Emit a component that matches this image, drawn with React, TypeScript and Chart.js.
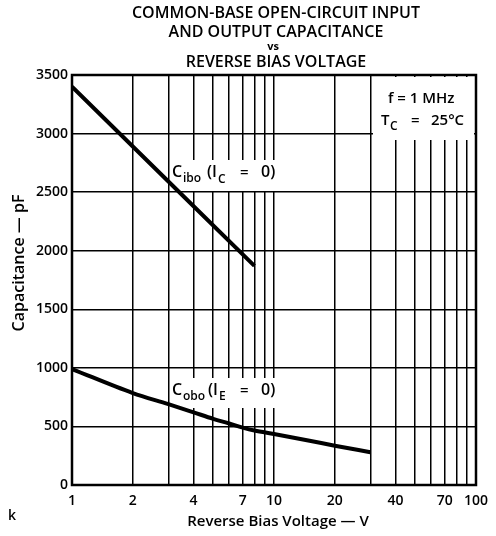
import React, { useEffect, useRef } from 'react';
import { Chart, registerables } from 'chart.js';
Chart.register(...registerables);

const FONT = '"Open Sans", "DejaVu Sans", sans-serif';

// Data
const gridVoltages = [1, 2, 3, 4, 5, 6, 7, 8, 9, 10, 20, 30, 40, 50, 60, 70, 80, 90, 100];
const labeledVoltages = [1, 2, 4, 7, 10, 20, 40, 70, 100];
const ciboVoltage = [1, 2, 4, 8];
const ciboCapacitance = [3400, 2890, 2380, 1870];
const coboVoltage = [1, 2, 3, 4, 5, 6, 7, 8, 10, 15, 20, 30];
const coboCapacitance = [990, 785, 690, 620, 565, 525, 490, 465, 435, 378, 335, 280];
const titleLines = ['COMMON-BASE OPEN-CIRCUIT INPUT', 'AND OUTPUT CAPACITANCE', 'vs', 'REVERSE BIAS VOLTAGE'];

function drawPieces(ctx: CanvasRenderingContext2D, pieces: [string, number, number, number][]) {
  for (const [t, x, y, size] of pieces) {
    ctx.font = `600 ${size}px ${FONT}`;
    ctx.fillText(t, x, y);
  }
}

const decorPlugin = {
  id: 'decor',
  beforeDatasetsDraw(chart: any) {
    const ctx = chart.ctx as CanvasRenderingContext2D;
    ctx.save();
    ctx.fillStyle = '#fff';
    // label backgrounds
    ctx.fillRect(171, 160, 106, 31);
    ctx.fillRect(171, 378, 106, 30);
    ctx.fillRect(373, 77, 101, 63);
    ctx.fillStyle = '#000';
    ctx.textBaseline = 'alphabetic';
    ctx.textAlign = 'left';
    drawPieces(ctx, [
      ['C', 172, 177, 16], ['ibo', 183, 182, 12], ['(I', 207, 177, 16], ['C', 218, 183, 12],
      ['=', 240, 177, 15], ['0)', 261, 177, 16],
      ['C', 172, 395, 16], ['obo', 183, 400, 12], ['(I', 208, 395, 16], ['E', 219, 400, 12],
      ['=', 240, 395, 15], ['0)', 261, 395, 16],
      ['f = 1 MHz', 388, 103, 15],
      ['T', 381, 125, 15], ['C', 390, 130, 12], ['=', 411, 125, 15], ['25°C', 431, 125, 15],
    ]);
    ctx.restore();
  },
  afterDatasetsDraw(chart: any) {
    const ctx = chart.ctx as CanvasRenderingContext2D;
    const a = chart.chartArea;
    ctx.save();
    ctx.strokeStyle = '#000';
    ctx.lineWidth = 2.5;
    ctx.strokeRect(a.left, a.top, a.right - a.left, a.bottom - a.top);
    ctx.restore();
  },
  afterDraw(chart: any) {
    const ctx = chart.ctx as CanvasRenderingContext2D;
    const a = chart.chartArea;
    ctx.save();
    ctx.fillStyle = '#000';
    ctx.textAlign = 'center';
    ctx.textBaseline = 'middle';
    const cx = (a.left + a.right) / 2 + 2;
    const ys = [13, 32, 47, 62];
    titleLines.forEach((t, i) => {
      ctx.font = i === 2 ? `bold 11px ${FONT}` : `600 16px ${FONT}`;
      ctx.fillText(t, i === 2 ? cx - 3 : cx, ys[i]);
    });
    ctx.font = `600 15px ${FONT}`;
    ctx.fillText('Reverse Bias Voltage — V', cx + 2, 522);
    ctx.font = `600 14px ${FONT}`;
    ctx.fillText('k', 12, 516);
    ctx.save();
    ctx.translate(19, 263);
    ctx.rotate(-Math.PI / 2);
    ctx.font = `600 16px ${FONT}`;
    ctx.fillText('Capacitance — pF', 0, 0);
    ctx.restore();
    ctx.restore();
  },
};

export default function App() {
  const ref = useRef<HTMLCanvasElement>(null);
  useEffect(() => {
    const chart = new Chart(ref.current!, {
      type: 'line',
      data: {
        datasets: [
          {
            data: ciboVoltage.map((v, i) => ({ x: v, y: ciboCapacitance[i] })),
            borderColor: '#000',
            borderWidth: 4,
            pointRadius: 0,
            fill: false,
          },
          {
            data: coboVoltage.map((v, i) => ({ x: v, y: coboCapacitance[i] })),
            borderColor: '#000',
            borderWidth: 4,
            pointRadius: 0,
            fill: false,
            cubicInterpolationMode: 'monotone',
          },
        ],
      },
      options: {
        responsive: false,
        animation: false,
        layout: { padding: { top: 75, right: 11, left: 0, bottom: 0 } },
        plugins: { legend: { display: false }, tooltip: { enabled: false }, title: { display: false } },
        scales: {
          x: {
            type: 'logarithmic',
            min: 1,
            max: 100,
            afterBuildTicks: (s: any) => {
              s.ticks = gridVoltages.map((v) => ({ value: v }));
            },
            afterFit: (s: any) => {
              s.height = 51;
            },
            grid: { color: '#000', lineWidth: 1.5, drawTicks: false },
            border: { display: false },
            ticks: {
              autoSkip: false,
              maxRotation: 0,
              padding: 8,
              color: '#000',
              font: { family: FONT, size: 14, weight: '600' },
              callback: (v: any) => (labeledVoltages.includes(Number(v)) ? String(v) : ''),
            },
          },
          y: {
            min: 0,
            max: 3500,
            afterFit: (s: any) => {
              s.width = 72;
            },
            grid: { color: '#000', lineWidth: 1.5, drawTicks: false },
            border: { display: false },
            ticks: {
              stepSize: 500,
              padding: 4,
              color: '#000',
              font: { family: FONT, size: 14, weight: '600' },
              callback: (v: any) => String(v),
            },
          },
        },
      },
      plugins: [decorPlugin],
    } as any);
    return () => chart.destroy();
  }, []);
  return (
    <div style={{ position: 'absolute', left: 0, top: 0, width: 496, height: 536, background: '#fff' }}>
      <canvas ref={ref} width={496} height={536} />
    </div>
  );
}
